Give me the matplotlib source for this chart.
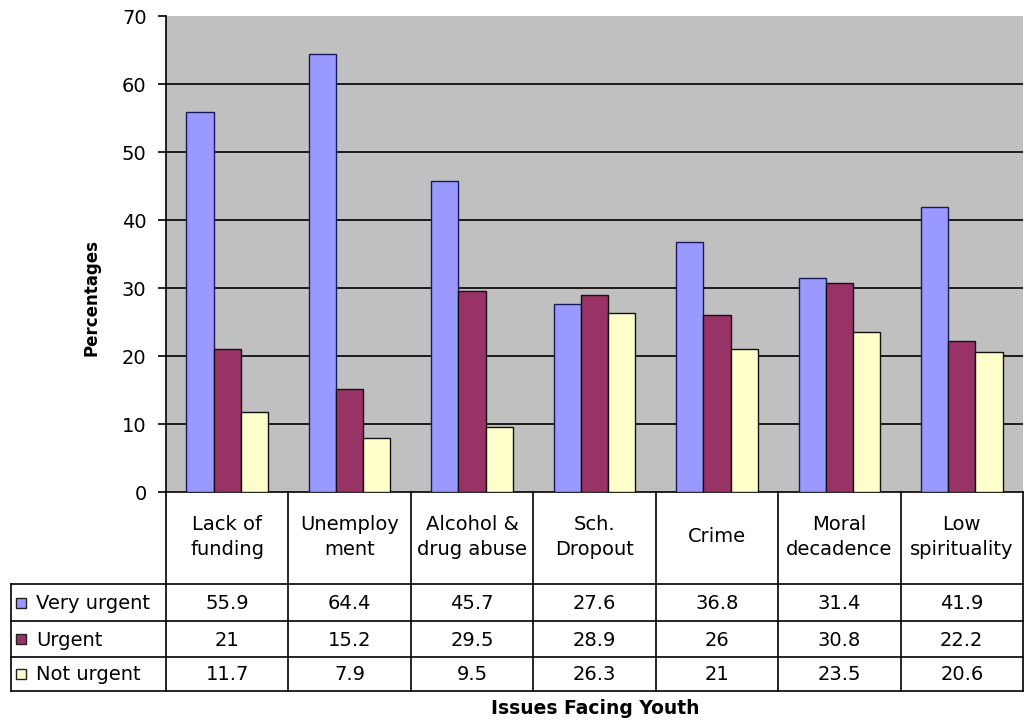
import matplotlib
matplotlib.use("Agg")
import matplotlib.pyplot as plt
from matplotlib.patches import Rectangle

# Dados
categorias = ["Lack of\nfunding", "Unemploy\nment", "Alcohol &\ndrug abuse",
              "Sch.\nDropout", "Crime", "Moral\ndecadence", "Low\nspirituality"]
series = ["Very urgent", "Urgent", "Not urgent"]
very_urgent = [55.9, 64.4, 45.7, 27.6, 36.8, 31.4, 41.9]
urgent = [21, 15.2, 29.5, 28.9, 26, 30.8, 22.2]
not_urgent = [11.7, 7.9, 9.5, 26.3, 21, 23.5, 20.6]
yticks = [0, 10, 20, 30, 40, 50, 60, 70]

cores = ["#9999FF", "#993366", "#FFFFCC"]
bordas = ["#1a1a5a", "#111111", "#111111"]

W, H = 1025, 723
fig = plt.figure(figsize=(W / 100, H / 100), dpi=100)
plt.rcParams["font.family"] = ["DejaVu Sans"]

# area do grafico (em pixels da figura)
esq, dir_, topo, base = 166, 1023, 16, 492
ax = fig.add_axes([esq / W, 1 - base / H, (dir_ - esq) / W, (base - topo) / H])
ax.set_facecolor("#C0C0C0")

n = len(categorias)
x = list(range(n))
largura = 1 / 4.5
valores = [very_urgent, urgent, not_urgent]
for k, vals in enumerate(valores):
    pos = [xi + (k - 1) * largura for xi in x]
    ax.bar(pos, vals, width=largura, color=cores[k], edgecolor=bordas[k],
           linewidth=1, zorder=3)

ax.set_xlim(-0.5, n - 0.5)
ax.set_ylim(0, 70)
ax.set_yticks(yticks)
ax.set_xticks([])
for y in yticks[1:-1]:
    ax.axhline(y, color="black", linewidth=1.2, zorder=1)
ax.tick_params(axis="y", direction="out", length=6, width=1.2, pad=8,
               labelsize=14, colors="black")
for lado in ["top", "right"]:
    ax.spines[lado].set_visible(False)
ax.spines["left"].set_linewidth(1.2)
ax.spines["bottom"].set_linewidth(1.2)

# tabela de dados abaixo do grafico
cw = (dir_ - esq) / n
tab_esq = 11
tab_base = 691
x0 = -0.5 - (esq - tab_esq) / cw
tx = fig.add_axes([tab_esq / W, 1 - tab_base / H, (dir_ - tab_esq) / W, (tab_base - base) / H])
tx.set_xlim(x0, n - 0.5)
tx.set_ylim(tab_base - base, 0)
tx.axis("off")

linhas_y = [92, 129, 165, 199]
lw = 1.2
for i in range(n + 1):
    tx.plot([i - 0.5, i - 0.5], [0, 199], color="black", lw=lw, clip_on=False)
tx.plot([x0, x0], [92, 199], color="black", lw=lw, clip_on=False)
for yl in linhas_y:
    tx.plot([x0, n - 0.5], [yl, yl], color="black", lw=lw, clip_on=False)

for i, cat in enumerate(categorias):
    tx.text(i, 45, cat, ha="center", va="center", fontsize=14, linespacing=1.45)

centros = [(linhas_y[j] + linhas_y[j + 1]) / 2 for j in range(3)]
for j, nome in enumerate(series):
    yc = centros[j]
    tx.add_patch(Rectangle((x0 + 5 / cw, yc - 5), 10 / cw, 10, facecolor=cores[j],
                           edgecolor="#222222", lw=1, clip_on=False))
    tx.text(x0 + 25 / cw, yc + 1, nome, ha="left", va="center", fontsize=14)
    for i, v in enumerate(valores[j]):
        tx.text(i, yc + 1, f"{v:g}", ha="center", va="center", fontsize=14)

fig.text(92 / W, 1 - 298 / H, "Percentages", rotation=90, ha="center", va="center",
         fontsize=12, fontweight="bold")
fig.text(595 / W, 1 - 709 / H, "Issues Facing Youth", ha="center", va="center",
         fontsize=13.5, fontweight="bold")

fig.savefig("out.png", dpi=100)
